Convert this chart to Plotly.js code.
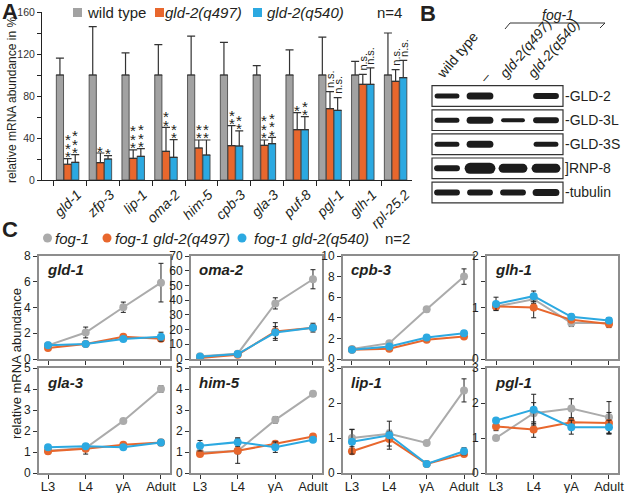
<!DOCTYPE html>
<html><head><meta charset="utf-8">
<script src="https://cdn.plot.ly/plotly-3.0.1.min.js"></script>
<style>html,body{margin:0;padding:0;background:#fff}#chart{width:625px;height:493px}
#chart .scatterlayer .js-line{stroke-linecap:round}</style>
</head><body><div id="chart"></div>
<script>
// ---------- Panel A data ----------
const genesA = ['gld-1','zfp-3','lip-1','oma-2','him-5','cpb-3','gla-3','puf-8','pgl-1','glh-1','rpl-25.2'];
const wtVals   = [100,100,100,100,100,100,100,100,100,100,100];
const wtErr    = [16,46,21,29,37,31,9,24,36,13,40];
const q497Vals = [15,16.5,20.6,27.3,30.5,32.7,33,47.9,67.9,91.1,94];
const q497Err  = [5.4,9.2,8,22.9,7.6,19,5.1,16.2,16.2,9.5,11.1];
const q540Vals = [16.8,20,22.5,21.6,23.8,32.4,34.6,47.9,66.3,91.1,97.5];
const q540Err  = [7.3,3.2,7.3,16.8,14.3,14.3,6,12.4,12.1,15.6,16.5];
const sigQ497  = ['***','*','***','**','**','**','***','*','n.s.','n.s.','n.s.'];
const sigQ540  = ['***','*','***','**','**','**','***','**','n.s.','n.s.','n.s.'];
const legendA  = ['wild type','gld-2(q497)','gld-2(q540)'];
const yTicksA  = [0,40,80,120,160];

// ---------- Panel B data ----------
const blotLanes = ['wild type','–','gld-2(q497)','gld-2(q540)'];
const blotProteins = ['GLD-2','GLD-3L','GLD-3S','RNP-8','tubulin'];
const blotMarks = ['-','-','-',']','-'];
const bandGLD2   = [5,7,0,6];
const bandGLD3L  = [5,7,4,6];
const bandGLD3S  = [5,7,0,5];
const bandRNP8   = [6,11,9,9];
const bandTub    = [6,6,6,7];

// ---------- Panel C data ----------
const stages = ['L3','L4','yA','Adult'];
const genesC = ['gld-1','oma-2','cpb-3','glh-1','gla-3','him-5','lip-1','pgl-1'];
const yMaxC  = [8,70,10,2,5,5,3,3];
const legendC = ['fog-1','fog-1 gld-2(q497)','fog-1 gld-2(q540)'];
const fog1Vals = [[1.06,2.06,4.02,5.93],[1.8,3.6,37.8,54.2],[0.96,1.54,4.83,8.0],[1.02,1.16,0.70,0.70],
                  [1.06,1.19,2.48,4.0],[0.98,1.05,2.53,3.77],[1.0,1.12,0.86,2.36],[1.0,1.71,1.84,1.59]];
const fog1Err  = [[0.05,0.42,0.4,1.5],[0.5,0.8,3.8,6.5],[0.05,0.1,0.25,0.75],[0.05,0.08,0.07,0.05],
                  [0.05,0.05,0.05,0.15],[0.08,0.1,0.15,0.12],[0.25,0.1,0.02,0.33],[0.02,0.3,0.28,0.45]];
const q497CVals = [[0.85,1.16,1.73,1.57],[0.7,2.9,18.7,21.3],[0.9,0.99,1.86,2.18],[1.02,1.0,0.76,0.68],
                   [1.04,1.15,1.34,1.45],[0.9,1.06,1.39,1.74],[0.62,0.97,0.26,0.54],[1.33,1.24,1.45,1.43]];
const q497CErr  = [[0.08,0.15,0.12,0.15],[0.3,0.6,6,2],[0.05,0.08,0.1,0.1],[0.07,0.2,0.05,0.07],
                   [0.12,0.25,0.08,0.1],[0.05,0.6,0.12,0.1],[0.05,0.2,0.03,0.05],[0.12,0.22,0.13,0.3]];
const q540CVals = [[1.06,1.16,1.55,1.73],[1.6,3.4,18,21.3],[0.9,1.22,2.08,2.5],[1.07,1.22,0.82,0.75],
                   [1.23,1.27,1.23,1.45],[1.3,1.47,1.23,1.58],[0.89,1.08,0.26,0.62],[1.5,1.81,1.31,1.31]];
const q540CErr  = [[0.05,0.1,0.1,0.35],[0.3,0.8,4,3],[0.05,0.1,0.1,0.25],[0.13,0.1,0.05,0.05],
                   [0.05,0.1,0.1,0.15],[0.25,0.2,0.25,0.08],[0.35,0.4,0.03,0.1],[0.05,0.44,0.2,0.2]];

// ---------- helpers / styles ----------
const W = 625, H = 493;
const px = x => x / W;
const py = y => 1 - y / H;
const GRAY = '#a2a2a2', ORANGE = '#e8672d', BLUE = '#2ca9e1', GRAYC = '#ababab';
const TXT = '#231f20';
const FONT = 'Liberation Sans, Arial, sans-serif';

const traces = [];
const annotations = [];
const shapes = [];
const layout = {
  width: W, height: H, margin: {l:0, r:0, t:0, b:0},
  paper_bgcolor: '#fff', plot_bgcolor: 'rgba(0,0,0,0)',
  showlegend: false, barmode: 'group', bargap: 0.3, bargroupgap: 0.06,
  font: {family: FONT, color: TXT, size: 12}
};
function label(x, y, text, size, opts) {
  annotations.push(Object.assign({xref: 'paper', yref: 'paper', x: px(x), y: py(y), text: text,
    showarrow: false, xanchor: 'left', yanchor: 'middle', font: {size: size, color: TXT}}, opts || {}));
}

// ---------- Panel A ----------
const idxA = genesA.map((g, i) => i);
const zerosA = genesA.map(() => 0);
[[wtVals, wtErr, GRAY], [q497Vals, q497Err, ORANGE], [q540Vals, q540Err, BLUE]].forEach(([v, e, c], k) => {
  traces.push({
    type: 'bar', x: idxA, y: v, name: legendA[k], xaxis: 'x', yaxis: 'y',
    marker: {color: c, line: {color: '#3a3a3a', width: 0.8}},
    error_y: {type: 'data', symmetric: false, array: e, arrayminus: zerosA, color: '#333', thickness: 1.2, width: 4}
  });
});
layout.xaxis = {
  domain: [px(42), px(412)], range: [-0.78, 10.5], anchor: 'y',
  tickmode: 'array', tickvals: idxA.map(i => i + 0.3), ticktext: genesA.map(g => '<i>' + g + '</i>'),
  tickangle: -45, ticks: '', tickfont: {size: 14, color: TXT},
  minor: {tickmode: 'array', tickvals: idxA.map(i => i - 0.42), ticks: 'outside', ticklen: 5, tickcolor: '#222', tickwidth: 1},
  showline: true, linecolor: '#222', linewidth: 1, showgrid: false, zeroline: false
};
layout.yaxis = {
  domain: [py(180), py(12)], range: [0, 160], anchor: 'x',
  tickmode: 'array', tickvals: yTicksA, ticktext: yTicksA.map(String),
  ticks: 'outside', ticklen: 4, tickcolor: '#222',
  minor: {dtick: 20, ticks: 'outside', ticklen: 4, tickcolor: '#222'},
  tickfont: {size: 10.5, color: '#333'}, showline: true, linecolor: '#222', linewidth: 1,
  showgrid: false, zeroline: false
};
// significance marks
const barOff = 0.7 / 3;
genesA.forEach((g, i) => {
  [[sigQ497, q497Vals, q497Err, 0], [sigQ540, q540Vals, q540Err, barOff]].forEach(([s, v, e, off]) => {
    const top = v[i] + e[i];
    if (s[i] === 'n.s.') {
      annotations.push({xref: 'x', yref: 'y', x: i + off, y: top + 1.5, text: s[i], showarrow: false,
        textangle: -90, xanchor: 'center', yanchor: 'bottom', font: {size: 11, color: TXT}});
    } else {
      for (let k = 0; k < s[i].length; k++) {
        annotations.push({xref: 'x', yref: 'y', x: i + off, y: top, yshift: 2 + k * 8.5, text: '*',
          showarrow: false, xanchor: 'center', yanchor: 'middle', font: {size: 15, color: TXT}});
      }
    }
  });
});
label(12, 100, 'relative mRNA abundance in %', 12, {textangle: -90, xanchor: 'center'});
// legend A
const legAx = [73, 155, 253], legAtx = [85, 163, 265];
[GRAY, ORANGE, BLUE].forEach((c, k) => {
  shapes.push({type: 'rect', xref: 'paper', yref: 'paper', x0: px(legAx[k]), x1: px(legAx[k] + 9),
    y0: py(17), y1: py(8), fillcolor: c, line: {width: 0}});
  label(legAtx[k], 12.5, k === 0 ? legendA[k] : '<i>' + legendA[k] + '</i>', 15);
});
label(375, 12.5, 'n=4', 15);
label(0, 12, '<b>A</b>', 22);

// ---------- Panel B ----------
const bands = [bandGLD2, bandGLD3L, bandGLD3S, bandRNP8, bandTub];
layout.xaxis3 = {domain: [px(432), px(563)], range: [-0.455, 3.515], anchor: 'y3', visible: false};
layout.yaxis3 = {domain: [py(204.5), py(84)], range: [4.5, -0.5], anchor: 'x3', visible: false};
blotProteins.forEach((p, r) => {
  shapes.push({type: 'rect', xref: 'x3 domain', yref: 'y3', x0: 0, x1: 1, y0: r - 0.43, y1: r + 0.43,
    line: {color: '#333', width: 1.2}, fillcolor: 'rgba(0,0,0,0)'});
  bands[r].forEach((t, lane) => {
    if (t > 0) traces.push({type: 'scatter', mode: 'lines', x: [lane - 0.3, lane + 0.3], y: [r, r],
      xaxis: 'x3', yaxis: 'y3', line: {color: '#1c1c1c', width: t}, hoverinfo: 'skip'});
  });
  annotations.push({xref: 'x3 domain', yref: 'y3', x: 1, y: r, xanchor: 'left', yanchor: 'middle',
    text: blotMarks[r] + p, showarrow: false, font: {size: 14, color: TXT}});
});
const laneStart = [430, 0, 494, 522];
blotLanes.forEach((l, i) => {
  if (i === 1) {
    label(485, 77, l, 14, {xanchor: 'center', textangle: -50});
  } else {
    label(laneStart[i], 84, i === 0 ? l : '<i>' + l + '</i>', 14, {yanchor: 'bottom', textangle: -50});
  }
});
label(558, 15, '<i>fog-1</i>', 14, {xanchor: 'center'});
shapes.push({type: 'path', xref: 'paper', yref: 'paper',
  path: `M ${px(505)} ${py(29)} L ${px(510)} ${py(23)} L ${px(605)} ${py(23)} L ${px(600)} ${py(28)}`,
  line: {color: '#333', width: 1}});
label(418, 13, '<b>B</b>', 22);

// ---------- Panel C ----------
const colsX = [[39,170],[191,322],[343,473],[487,618]];
const rowsY = [[256,359],[368,473]];
const stageIdx = stages.map((s, i) => i);
const seriesC = [[fog1Vals, fog1Err, GRAYC], [q497CVals, q497CErr, ORANGE], [q540CVals, q540CErr, BLUE]];
genesC.forEach((g, gi) => {
  const n = 4 + gi;
  const col = gi % 4, row = Math.floor(gi / 4);
  const xs = colsX[col], ys = rowsY[row];
  seriesC.forEach(([vals, errs, c], k) => {
    traces.push({type: 'scatter', mode: 'lines+markers', x: stageIdx, y: vals[gi], name: legendC[k],
      xaxis: 'x' + n, yaxis: 'y' + n,
      line: {color: c, width: 2}, marker: {color: c, size: 8},
      error_y: {type: 'data', array: errs[gi], color: '#222', thickness: 1, width: 2.5}});
  });
  layout['xaxis' + n] = {
    domain: [px(xs[0]), px(xs[1])], anchor: 'y' + n, range: [-0.24, 3.24],
    tickmode: 'array', tickvals: stageIdx, ticktext: stages, ticks: '',
    minor: {tickmode: 'array', tickvals: stageIdx, ticks: 'outside', ticklen: 4, tickcolor: '#333'},
    showticklabels: row === 1,
    tickfont: {size: 13, color: TXT}, showline: true, mirror: true, linecolor: '#8d8d8d', linewidth: 2,
    showgrid: false, zeroline: false
  };
  const ya = {
    domain: [py(ys[1]), py(ys[0])], anchor: 'x' + n, range: [0, yMaxC[gi]],
    ticks: 'outside', ticklen: 4, tickcolor: '#333', tickfont: {size: 12, color: TXT},
    showline: true, mirror: true, linecolor: '#8d8d8d', linewidth: 2, showgrid: false, zeroline: false
  };
  if (g === 'glh-1') {
    ya.tickmode = 'array'; ya.tickvals = [0,1,2];
    ya.minor = {dtick: 0.5, ticks: 'outside', ticklen: 4, tickcolor: '#333'};
  } else {
    ya.dtick = gi === 1 ? 10 : (yMaxC[gi] >= 8 ? 2 : 1);
  }
  layout['yaxis' + n] = ya;
  annotations.push({xref: 'x' + n + ' domain', yref: 'y' + n + ' domain', x: 0.045, y: 0.865,
    xanchor: 'left', yanchor: 'middle', text: '<b><i>' + g + '</i></b>', showarrow: false,
    font: {size: 15, color: TXT}});
});
label(16, 364, 'relative mRNA abundance', 13, {textangle: -90, xanchor: 'center'});
// legend C
const legCx = [47.5, 107, 242], legCtx = [53, 113, 252];
[GRAYC, ORANGE, BLUE].forEach((c, k) => {
  shapes.push({type: 'circle', xref: 'paper', yref: 'paper', x0: px(legCx[k] - 4.5), x1: px(legCx[k] + 4.5),
    y0: py(242.5), y1: py(233.5), fillcolor: c, line: {width: 0}});
  label(legCtx[k], 238, '<i>' + legendC[k] + '</i>', 15);
});
label(383, 238, 'n=2', 15);
label(0, 229, '<b>C</b>', 22);

layout.annotations = annotations;
layout.shapes = shapes;
Plotly.newPlot('chart', traces, layout, {staticPlot: true, displayModeBar: false});
</script></body></html>
